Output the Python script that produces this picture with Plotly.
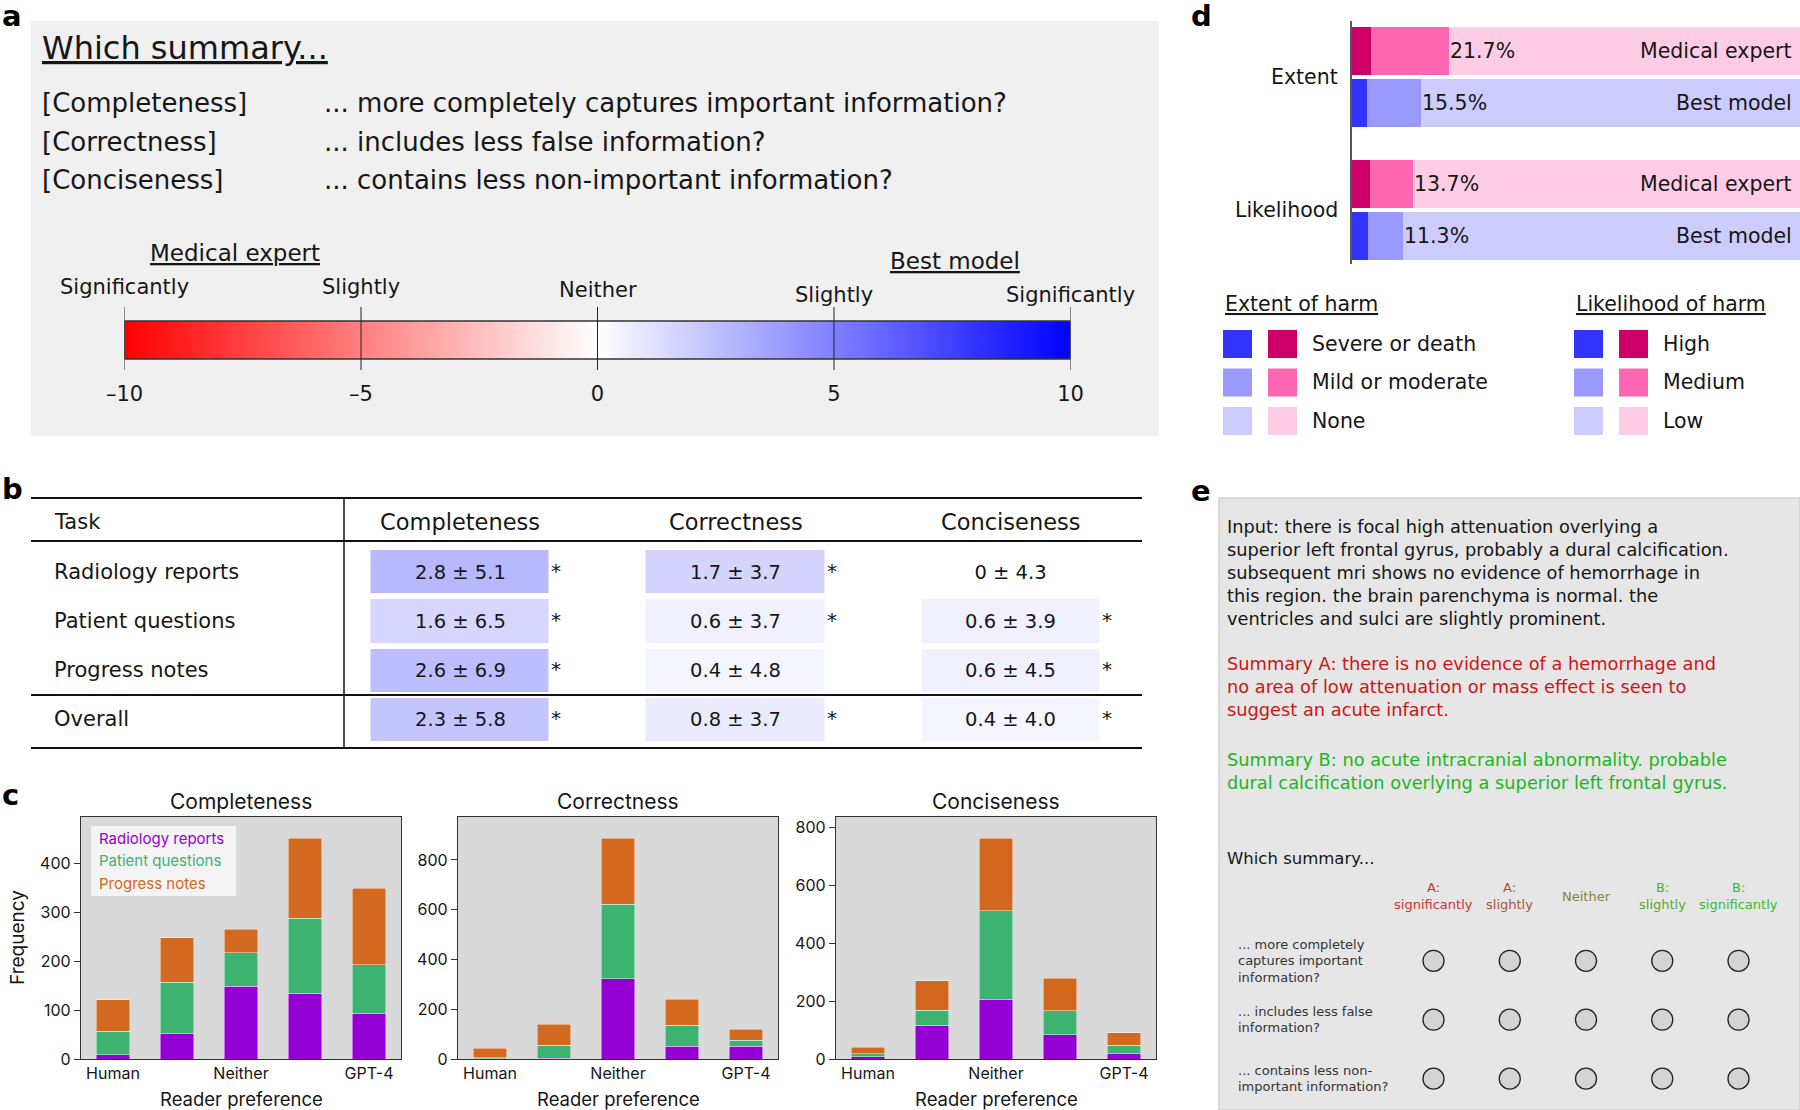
import plotly.graph_objects as go

W, H = 1800, 1110
def X(p): return p / W
def Y(p): return 1 - p / H

FONT = "DejaVu Sans"
FONT_C = "Inter"
INK = "#161616"

# ---------------- data ----------------
# panel a
criteria = ["Completeness", "Correctness", "Conciseness"]
criteria_q = ["... more completely captures important information?",
              "... includes less false information?",
              "... contains less non-important information?"]
scale_ticks = [-10, -5, 0, 5, 10]
scale_ticktext = ["\u201310", "\u20135", "0", "5", "10"]
scale_words = ["Significantly", "Slightly", "Neither", "Slightly", "Significantly"]
scale_word_y = [287, 287, 290, 295, 295]

# panel b
tasks = ["Radiology reports", "Patient questions", "Progress notes", "Overall"]
mean_vals = [[2.8, 1.7, 0.0],
             [1.6, 0.6, 0.6],
             [2.6, 0.4, 0.6],
             [2.3, 0.8, 0.4]]
sd_vals = [[5.1, 3.7, 4.3],
           [6.5, 3.7, 3.9],
           [6.9, 4.8, 4.5],
           [5.8, 3.7, 4.0]]
signif = [[True, True, False],
          [True, True, True],
          [True, False, True],
          [True, True, True]]

# panel c
pref_ticktext = ["Human", "Neither", "GPT-4"]
pref_tickvals = [0, 2, 4]
n_pref = 5
sources_c = ["Radiology reports", "Patient questions", "Progress notes"]
source_colors = ["#9400D3", "#3CB371", "#D2691E"]
completeness_counts = [[9, 52, 149, 135, 93],
                       [48, 105, 69, 154, 100],
                       [64, 92, 48, 164, 157]]
correctness_counts = [[1, 3, 322, 52, 51],
                      [5, 52, 300, 84, 24],
                      [38, 85, 266, 105, 45]]
conciseness_counts = [[7, 116, 205, 84, 18],
                      [11, 52, 306, 82, 29],
                      [23, 102, 252, 112, 44]]

# panel d
harm_dims = ["Extent", "Likelihood"]
raters = ["Medical expert", "Best model"]
extent_levels = ["Severe or death", "Mild or moderate", "None"]
likelihood_levels = ["High", "Medium", "Low"]
extent_pct = {"Medical expert": [4.2, 17.5, 78.3], "Best model": [3.4, 12.1, 84.5]}
likelihood_pct = {"Medical expert": [4.0, 9.7, 86.3], "Best model": [3.6, 7.7, 88.7]}
expert_colors = ["#CC0066", "#FF66B2", "#FFCCE5"]
model_colors = ["#3333FF", "#9999FF", "#CCCCFF"]

# panel e
e_input = ["Input: there is focal high attenuation overlying a",
           "superior left frontal gyrus, probably a dural calcification.",
           "subsequent mri shows no evidence of hemorrhage in",
           "this region. the brain parenchyma is normal. the",
           "ventricles and sulci are slightly prominent."]
e_sum_a = ["Summary A: there is no evidence of a hemorrhage and",
           "no area of low attenuation or mass effect is seen to",
           "suggest an acute infarct."]
e_sum_b = ["Summary B: no acute intracranial abnormality. probable",
           "dural calcification overlying a superior left frontal gyrus."]
e_options = ["A: significantly", "A: slightly", "Neither", "B: slightly", "B: significantly"]
e_option_colors = ["#CC3333", "#A3573A", "#858535", "#55AA33", "#33BB33"]
e_questions = ["... more completely|captures important|information?",
               "... includes less false|information?",
               "... contains less non-|important information?"]

# ---------------- figure ----------------
fig = go.Figure()
shapes = []
ann = []

def text(x, y, s, size=20, color=INK, xanchor="left", yanchor="middle", family=FONT, **kw):
    ann.append(dict(x=X(x), y=Y(y), xref="paper", yref="paper", text=s, showarrow=False,
                    xanchor=xanchor, yanchor=yanchor,
                    font=dict(family=family, size=size, color=color), **kw))

def text_lines(x, y0, dy, lines, size, color=INK):
    for k, ln in enumerate(lines):
        text(x, y0 + k * dy, ln, size=size, color=color)

# panel labels
for lab, (lx, ly) in zip("abcde", [(0, 16), (0, 489), (0, 795), (1189, 16), (1189, 491)]):
    text(lx, ly, "<b>" + lab + "</b>", size=29, color="black")

# ---- panel a ----
shapes.append(dict(type="rect", xref="paper", yref="paper", x0=X(31), x1=X(1159), y0=Y(436), y1=Y(21),
                   fillcolor="#F0F0F0", line=dict(width=0), layer="below"))
text(40, 48, "<u>Which summary...</u>", size=32)
for i, (c, q) in enumerate(zip(criteria, criteria_q)):
    yy = 103 + i * 38.5
    text(40, yy, "[" + c + "]", size=26)
    text(322, yy, q, size=26)
text(235, 253, "<u>Medical expert</u>", size=23, xanchor="center")
text(955, 261, "<u>Best model</u>", size=23, xanchor="center")

lo, hi = min(scale_ticks), max(scale_ticks)
fig.add_trace(go.Scatter(
    x=[lo, hi, hi, lo, lo], y=[0, 0, 1, 1, 0], fill="toself", mode="lines",
    line=dict(color="#333333", width=1.5),
    fillgradient=dict(type="horizontal", start=lo, stop=hi,
                      colorscale=[[0, "rgb(255,0,0)"], [0.5, "rgb(255,255,255)"], [1, "rgb(0,0,255)"]]),
    xaxis="x", yaxis="y", hoverinfo="skip", showlegend=False))
for t, w, wy in zip(scale_ticks, scale_words, scale_word_y):
    shapes.append(dict(type="line", xref="x", yref="y domain", x0=t, x1=t, y0=0, y1=1,
                       line=dict(color="#222222", width=1), layer="above"))
    ann.append(dict(x=t, y=Y(wy), xref="x", yref="paper", text=w, showarrow=False,
                    xanchor="center", yanchor="middle", font=dict(family=FONT, size=21, color=INK)))

# ---- panel b ----
def fmt(m):
    return "0" if m == 0 else f"{m:.1f}"
cell_text = [[f"{fmt(m)} \u00b1 {s:.1f}" for m, s in zip(mr, sr)] for mr, sr in zip(mean_vals, sd_vals)]
fig.add_trace(go.Heatmap(
    x=criteria, y=tasks, z=mean_vals, text=cell_text, texttemplate="%{text}",
    textfont=dict(family=FONT, size=19.5, color=INK),
    colorscale=[[0, "rgb(255,0,0)"], [0.5, "rgb(255,255,255)"], [1, "rgb(0,0,255)"]],
    zmin=-10, zmax=10, showscale=False, xgap=97, ygap=6,
    xaxis="x2", yaxis="y2", hoverinfo="skip"))
for i, t in enumerate(tasks):
    ann.append(dict(x=X(52), y=t, xref="paper", yref="y2", text=t, showarrow=False,
                    xanchor="left", yanchor="middle", font=dict(family=FONT, size=21, color=INK)))
    for j, c in enumerate(criteria):
        if signif[i][j]:
            ann.append(dict(x=c, y=t, xref="x2", yref="y2", text="*", showarrow=False, xshift=96, yshift=1,
                            xanchor="center", yanchor="middle", font=dict(family=FONT, size=20, color=INK)))
text(52, 522, "Task", size=21)
for c in criteria:
    ann.append(dict(x=c, y=Y(522), xref="x2", yref="paper", text=c, showarrow=False,
                    xanchor="center", yanchor="middle", font=dict(family=FONT, size=22.5, color=INK)))
for yy in [498, 541, 695, 748]:
    shapes.append(dict(type="line", xref="paper", yref="paper", x0=X(31), x1=X(1142), y0=Y(yy), y1=Y(yy),
                       line=dict(color="#111111", width=2)))
shapes.append(dict(type="line", xref="paper", yref="paper", x0=X(344), x1=X(344), y0=Y(498), y1=Y(748),
                   line=dict(color="#111111", width=1.5)))

# ---- panel c ----
c_sets = [completeness_counts, correctness_counts, conciseness_counts]
c_dom = [(81, 401), (458, 778), (836, 1156)]
c_dtick = [100, 200, 200]
for k, (counts, crit, (x0, x1)) in enumerate(zip(c_sets, criteria, c_dom)):
    ax = k + 3
    shapes.append(dict(type="rect", xref=f"x{ax} domain", yref=f"y{ax} domain", x0=0, x1=1, y0=0, y1=1,
                       fillcolor="#D9D9D9", line=dict(width=0), layer="below"))
    for s, (src, col) in enumerate(zip(sources_c, source_colors)):
        fig.add_trace(go.Bar(x=list(range(n_pref)), y=counts[s], name=src, marker_color=col,
                             marker_line=dict(color="rgba(255,255,255,0.55)", width=0.8),
                             width=0.52, xaxis=f"x{ax}", yaxis=f"y{ax}", showlegend=False,
                             hoverinfo="skip"))
    totals = [sum(col) for col in zip(*counts)]
    fig.layout[f"xaxis{ax}"] = dict(domain=[X(x0), X(x1)], anchor=f"y{ax}", range=[-0.5, n_pref - 0.5],
                                    tickvals=pref_tickvals, ticktext=pref_ticktext, ticks="",
                                    showgrid=False, zeroline=False, showline=True, mirror=True,
                                    linecolor="#333333", linewidth=1.3, automargin=False,
                                    tickfont=dict(family=FONT_C, size=16, color=INK))
    fig.layout[f"yaxis{ax}"] = dict(domain=[Y(1059), Y(817)], anchor=f"x{ax}",
                                    range=[0, max(totals) * 1.095], dtick=c_dtick[k],
                                    ticks="outside", ticklen=6, tickcolor="#333333",
                                    showgrid=False, zeroline=False, showline=True, mirror=True,
                                    linecolor="#333333", linewidth=1.3, automargin=False,
                                    tickfont=dict(family=FONT_C, size=16, color=INK))
    xc = (x0 + x1) / 2
    text(xc, 801, crit, size=21, xanchor="center", family=FONT_C)
    text(xc, 1099, "Reader preference", size=18.5, xanchor="center", family=FONT_C)
text(17, 938, "Frequency", size=19, xanchor="center", textangle=-90, family=FONT_C)
shapes.append(dict(type="rect", xref="paper", yref="paper", x0=X(91), x1=X(236), y0=Y(896), y1=Y(826),
                   fillcolor="rgba(246,246,246,0.95)", line=dict(width=0)))
for s, (src, col) in enumerate(zip(sources_c, source_colors)):
    text(97, 838 + s * 22.5, src, size=15, color=col, family=FONT_C)

# ---- panel d ----
d_dom = [(25, 129), (158, 262)]
for g, (dim, pct, levels, (y0, y1)) in enumerate(zip(harm_dims, [extent_pct, likelihood_pct],
                                                       [extent_levels, likelihood_levels], d_dom)):
    ax = 6 + g
    for lv in range(3):
        fig.add_trace(go.Bar(orientation="h", x=[pct[r][lv] for r in raters], y=raters,
                             marker=dict(color=[expert_colors[lv], model_colors[lv]], line=dict(width=0)),
                             width=0.92, xaxis=f"x{ax}", yaxis=f"y{ax}", showlegend=False,
                             hoverinfo="skip", name=levels[lv]))
    fig.layout[f"xaxis{ax}"] = dict(domain=[X(1352), X(1800)], anchor=f"y{ax}", range=[0, 100],
                                    visible=False, automargin=False)
    fig.layout[f"yaxis{ax}"] = dict(domain=[Y(y1), Y(y0)], anchor=f"x{ax}", autorange="reversed",
                                    visible=False, type="category", automargin=False)
    for r in raters:
        harmful = pct[r][0] + pct[r][1]
        ann.append(dict(x=harmful, y=r, xref=f"x{ax}", yref=f"y{ax}", text=f"{harmful:.1f}%",
                        showarrow=False, xanchor="left", yanchor="middle", xshift=-1,
                        font=dict(family=FONT, size=20.5, color=INK)))
        ann.append(dict(x=100, y=r, xref=f"x{ax}", yref=f"y{ax}", text=r, showarrow=False,
                        xanchor="right", yanchor="middle", xshift=-6,
                        font=dict(family=FONT, size=20.5, color=INK)))
    ann.append(dict(x=X(1340), y=0.5, xref="paper", yref=f"y{ax} domain", text=dim, showarrow=False,
                    xanchor="right", yanchor="middle", font=dict(family=FONT, size=20.5, color=INK)))
shapes.append(dict(type="line", xref="paper", yref="paper", x0=X(1351), x1=X(1351), y0=Y(264), y1=Y(21),
                   line=dict(color="#555555", width=2)))
# legend
for lx, title, levels in [(1223, "Extent of harm", extent_levels), (1574, "Likelihood of harm", likelihood_levels)]:
    text(lx, 304, "<u>" + title + "</u>", size=20.5)
    for i, lv in enumerate(levels):
        yy = 344 + i * 38.5
        shapes.append(dict(type="rect", xref="paper", yref="paper", x0=X(lx), x1=X(lx + 29),
                           y0=Y(yy + 14), y1=Y(yy - 14), fillcolor=model_colors[i], line=dict(width=0)))
        shapes.append(dict(type="rect", xref="paper", yref="paper", x0=X(lx + 45), x1=X(lx + 74),
                           y0=Y(yy + 14), y1=Y(yy - 14), fillcolor=expert_colors[i], line=dict(width=0)))
        text(lx + 87, yy, lv, size=20.5)

# ---- panel e ----
shapes.append(dict(type="rect", xref="paper", yref="paper", x0=X(1219), x1=X(1800), y0=Y(1110), y1=Y(498),
                   fillcolor="#E6E6E6", line=dict(color="#CFCFCF", width=1.5), layer="below"))
text_lines(1225, 526, 23, e_input, 17.8)
text_lines(1225, 663, 23, e_sum_a, 17.8, color="#CC1515")
text_lines(1225, 759, 23, e_sum_b, 17.8, color="#1DB51D")
text(1225, 858, "Which summary...", size=16.5)
fig.add_trace(go.Scatter(
    x=[o for q in e_questions for o in e_options],
    y=[q for q in e_questions for o in e_options],
    mode="markers", marker=dict(size=21, color="#D4D4D4", line=dict(color="#222222", width=1.3)),
    xaxis="x8", yaxis="y8", showlegend=False, hoverinfo="skip"))
fig.layout["xaxis8"] = dict(domain=[X(1392), X(1780)], anchor="y8", type="category", visible=False,
                            categoryorder="array", categoryarray=e_options, automargin=False)
fig.layout["yaxis8"] = dict(domain=[Y(1100), Y(935)], anchor="x8", type="category", visible=False,
                            autorange="reversed", categoryorder="array", categoryarray=e_questions,
                            automargin=False)
LS = 16.3
for o, col in zip(e_options, e_option_colors):
    parts = o.split(" ")
    for k, p in enumerate(parts):
        ann.append(dict(x=o, y=Y(896), xref="x8", yref="paper", text=p, showarrow=False,
                        xanchor="center", yanchor="middle", yshift=-(k - (len(parts) - 1) / 2) * LS,
                        font=dict(family=FONT, size=13, color=col)))
for q in e_questions:
    parts = q.split("|")
    for k, p in enumerate(parts):
        ann.append(dict(x=X(1236), y=q, xref="paper", yref="y8", text=p, showarrow=False,
                        xanchor="left", yanchor="middle", yshift=-(k - (len(parts) - 1) / 2) * LS,
                        font=dict(family=FONT, size=13, color="#333333")))

# ---- layout ----
fig.update_layout(
    width=W, height=H, margin=dict(l=0, r=0, t=0, b=0, pad=0, autoexpand=False),
    paper_bgcolor="white", plot_bgcolor="rgba(0,0,0,0)",
    barmode="stack", showlegend=False,
    font=dict(family=FONT, color=INK),
    xaxis=dict(domain=[X(124.5), X(1070.5)], anchor="y", range=[lo, hi], tickvals=scale_ticks,
               ticktext=scale_ticktext, ticks="", showgrid=False, zeroline=False, showline=False,
               automargin=False,
               tickfont=dict(family=FONT, size=21, color=INK), ticklabelstandoff=9),
    yaxis=dict(domain=[Y(370), Y(307)], anchor="x", range=[-0.289, 1.368], visible=False, automargin=False),
    xaxis2=dict(domain=[X(322.5), X(1148.5)], anchor="y2", visible=False, type="category", automargin=False),
    yaxis2=dict(domain=[Y(744), Y(547)], anchor="x2", visible=False, type="category",
                autorange="reversed", automargin=False),
    shapes=shapes, annotations=ann,
)
fig.write_html("out.html", config={"displayModeBar": False},
               post_script="document.body.style.margin='0';document.body.style.overflow='hidden';")
